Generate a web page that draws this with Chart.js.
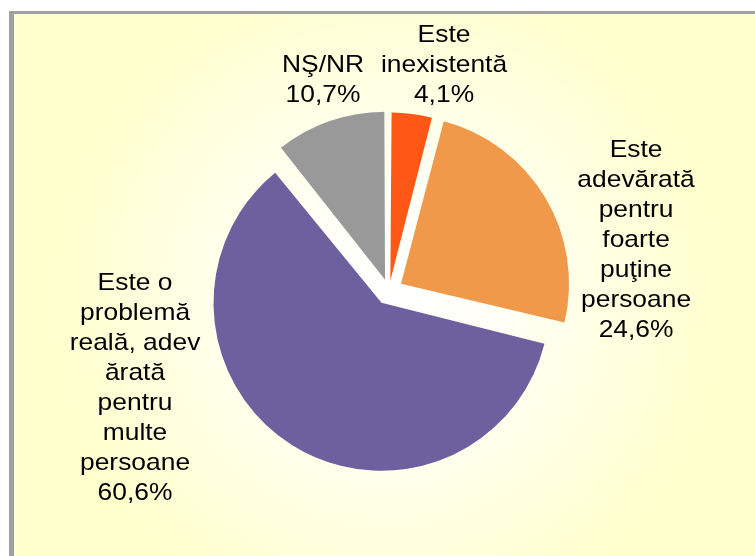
<!DOCTYPE html>
<html>
<head>
<meta charset="utf-8">
<script src="https://cdn.jsdelivr.net/npm/chart.js@4"></script>
<style>
  body { margin: 0; background: #fff; }
  canvas { display: block; }
</style>
</head>
<body>
<canvas id="myChart" width="755" height="556"></canvas>
<script>
// categories, clockwise from 12 o'clock (each entry = label lines)
const categories = [
    ['Este', 'inexistentă'],
    ['Este', 'adevărată', 'pentru', 'foarte', 'puţine', 'persoane'],
    ['Este o', 'problemă', 'reală, adev', 'ărată', 'pentru', 'multe', 'persoane'],
    ['NŞ/NR']
];
const percents = [4.1, 24.6, 60.6, 10.7];
const sliceColors = ['#FF5716', '#F0994A', '#6C609E', '#999999'];

// where the labels sit: angle (deg, clockwise from top) and distance in radii
const labelAngle = [13.6, 77.9, 249.4, -17.25];
const labelDist = [1.393, 1.504, 1.615, 1.324];

// frame + soft yellow gradient like the original slide
const backdrop = {
    id: 'backdrop',
    beforeDraw(chart) {
        const ctx = chart.ctx;
        const w = chart.width, h = chart.height;
        ctx.save();
        ctx.fillStyle = '#ffffff';
        ctx.fillRect(0, 0, w, h);
        ctx.fillStyle = '#A0A0A0';
        ctx.fillRect(9, 11, w - 9, h - 11);
        const g = ctx.createRadialGradient(388, 300, 0, 388, 300, 340);
        g.addColorStop(0, '#FFFFFF');
        g.addColorStop(0.35, '#FFFFF5');
        g.addColorStop(1, '#FFFFCC');
        ctx.fillStyle = g;
        ctx.fillRect(14, 14, w - 14, h - 14);
        ctx.restore();
    }
};

// chart.js grows offset slices a bit; keep every slice at the same radius
const evenRadius = {
    id: 'evenRadius',
    beforeDatasetsDraw(chart) {
        const meta = chart.getDatasetMeta(0);
        const base = meta.controller.outerRadius;
        meta.data.forEach(arc => {
            const t = (arc.options.offset || 0) / 4;
            const fix = 1 - Math.sin(Math.min(Math.PI, arc.circumference));
            arc.outerRadius = base - t * fix;
        });
    }
};

// multi-line labels outside the slices
const sliceLabels = {
    id: 'sliceLabels',
    afterDatasetsDraw(chart) {
        const ctx = chart.ctx;
        const meta = chart.getDatasetMeta(0);
        const r = meta.controller.outerRadius;
        const lineH = 30;
        ctx.save();
        ctx.fillStyle = '#000';
        ctx.font = '24px "Liberation Sans", Arial, sans-serif';
        ctx.textAlign = 'center';
        ctx.textBaseline = 'alphabetic';
        meta.data.forEach((arc, i) => {
            const lines = categories[i].concat([percents[i].toFixed(1).replace('.', ',') + '%']);
            const a = labelAngle[i] * Math.PI / 180;
            const d = labelDist[i] * r;
            const cx = arc.x + Math.sin(a) * d;
            const cy = arc.y - Math.cos(a) * d;
            const top = cy - (lines.length - 1) * lineH / 2;
            lines.forEach((txt, k) => {
                ctx.save();
                ctx.translate(cx, top + k * lineH + 8.5);
                ctx.scale(1.1, 1);
                ctx.fillText(txt, 0, 0);
                ctx.restore();
            });
        });
        ctx.restore();
    }
};

const data = {
    labels: categories,
    datasets: [{
        data: percents,
        backgroundColor: sliceColors,
        borderWidth: 0,
        offset: [42, 56, 56, 48],
        hoverOffset: 0
    }]
};

const config = {
    type: 'pie',
    data: data,
    options: {
        responsive: false,
        animation: false,
        radius: 168,
        layout: { padding: { left: 23, top: 26, right: 0, bottom: 0 } },
        plugins: {
            legend: { display: false },
            tooltip: { enabled: false }
        }
    },
    plugins: [backdrop, evenRadius, sliceLabels]
};

new Chart(document.getElementById('myChart'), config);
</script>
</body>
</html>
